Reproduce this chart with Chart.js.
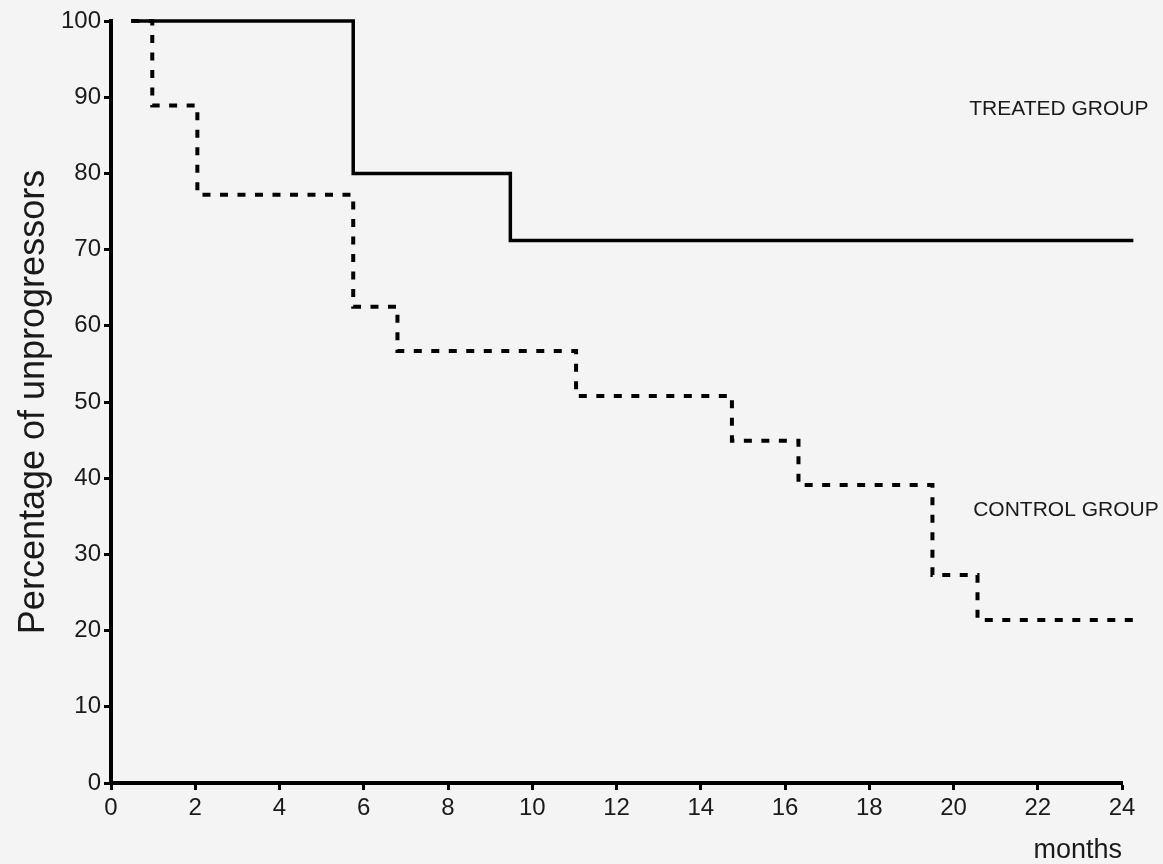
<!DOCTYPE html>
<html>
<head>
<meta charset="utf-8">
<script src="https://cdn.jsdelivr.net/npm/chart.js@4"></script>
<style>
  html, body { margin: 0; padding: 0; background: #f4f4f4; }
  #wrap { width: 1163px; height: 864px; }
</style>
</head>
<body>
<div id="wrap"><canvas id="kmChart" width="1163" height="864"></canvas></div>
<script>
// survival curves (months, % unprogressed)
const treatedMonths = [0.48, 5.75, 9.48, 24.27];
const treatedPct = [100, 80, 71.2, 71.2];

const controlMonths = [0.48, 0.98, 2.05, 5.75, 6.8, 11.04, 14.74, 16.32, 19.5, 20.57, 24.27];
const controlPct = [100, 88.9, 77.2, 62.5, 56.7, 50.8, 44.9, 39.1, 27.3, 21.4, 21.4];

const xTicks = [0, 2, 4, 6, 8, 10, 12, 14, 16, 18, 20, 22, 24];
const yTicks = [0, 10, 20, 30, 40, 50, 60, 70, 80, 90, 100];

const groupNames = ["TREATED GROUP", "CONTROL GROUP"];

const toPoints = (xs, ys) => xs.map((x, i) => ({ x: x, y: ys[i] }));

// text labels next to the curves, placed in axis units
const groupLabelPlugin = {
  id: "groupLabels",
  afterDatasetsDraw(chart, args, opts) {
    const { ctx, scales } = chart;
    ctx.save();
    ctx.font = "21px 'Liberation Sans', Arial, sans-serif";
    ctx.fillStyle = "#1a1a1a";
    ctx.textAlign = "right";
    ctx.textBaseline = "middle";
    opts.spots.forEach((s, i) => {
      ctx.fillText(groupNames[i], scales.x.getPixelForValue(s.x), scales.y.getPixelForValue(s.y));
    });
    ctx.restore();
  }
};

document.addEventListener("DOMContentLoaded", function () {
  const ctx = document.getElementById("kmChart").getContext("2d");
  const font = "'Liberation Sans', Arial, sans-serif";

  new Chart(ctx, {
    type: "line",
    data: {
      datasets: [
        {
          label: groupNames[0],
          data: toPoints(treatedMonths, treatedPct),
          borderColor: "#000",
          borderWidth: 3.5,
          stepped: true,
          pointRadius: 0,
          fill: false,
          clip: false
        },
        {
          label: groupNames[1],
          data: toPoints(controlMonths, controlPct),
          borderColor: "#000",
          borderWidth: 4,
          borderDash: [8, 9.5],
          stepped: true,
          pointRadius: 0,
          fill: false,
          clip: false
        }
      ]
    },
    options: {
      responsive: false,
      animation: false,
      layout: { padding: { top: 21, right: 41, left: 0, bottom: 0 } },
      plugins: {
        legend: { display: false },
        tooltip: { enabled: false },
        groupLabels: {
          spots: [
            { x: 24.63, y: 88.4 },
            { x: 24.87, y: 35.8 }
          ]
        }
      },
      scales: {
        x: {
          type: "linear",
          min: 0,
          max: 24,
          afterBuildTicks: (s) => { s.ticks = xTicks.map(v => ({ value: v })); },
          afterFit: (s) => { s.height = 81; },
          ticks: { color: "#1a1a1a", font: { family: font, size: 24 }, padding: 4, maxRotation: 0 },
          grid: { drawOnChartArea: false, drawTicks: true, tickLength: 7, tickWidth: 3, tickColor: "#000" },
          border: { color: "#000", width: 4 },
          title: {
            display: true,
            text: "months",
            align: "end",
            color: "#1a1a1a",
            font: { family: font, size: 27, lineHeight: 1 },
            padding: { top: 0, bottom: 0 }
          }
        },
        y: {
          min: 0,
          max: 100,
          afterBuildTicks: (s) => { s.ticks = yTicks.map(v => ({ value: v })); },
          afterFit: (s) => { s.width = 111; },
          ticks: { color: "#1a1a1a", font: { family: font, size: 24 }, padding: 3 },
          grid: { drawOnChartArea: false, drawTicks: true, tickLength: 7, tickWidth: 3, tickColor: "#000" },
          border: { color: "#000", width: 4 },
          title: {
            display: true,
            text: "Percentage of unprogressors",
            color: "#1a1a1a",
            font: { family: font, size: 36, lineHeight: 1 },
            padding: { top: 16, bottom: 0 }
          }
        }
      }
    },
    plugins: [groupLabelPlugin]
  });
});
</script>
</body>
</html>
